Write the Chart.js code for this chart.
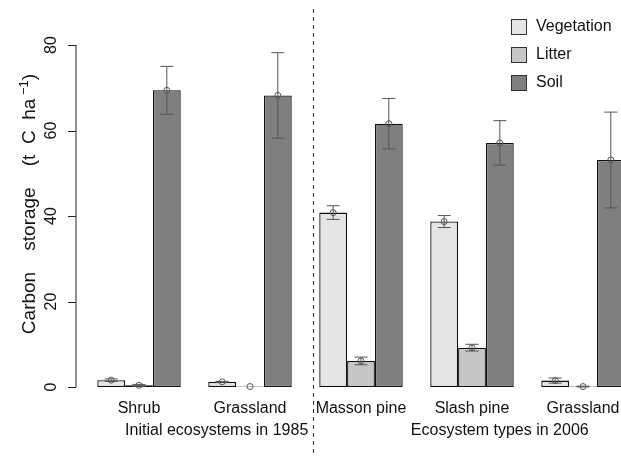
<!DOCTYPE html>
<html>
<head>
<meta charset="utf-8">
<script src="https://cdn.jsdelivr.net/npm/chart.js@4.4.1/dist/chart.umd.min.js"></script>
<style>
html,body{margin:0;padding:0;background:#fff;overflow:hidden;width:621px;height:456px;}
#wrap{width:660px;height:456px;}
</style>
</head>
<body>
<div id="wrap"><canvas id="c" width="660" height="456"></canvas></div>
<script>
const categories = ['Shrub', 'Grassland', 'Masson pine', 'Slash pine', 'Grassland'];
const seriesNames = ['Vegetation', 'Litter', 'Soil'];
const vegetation = [1.6, 1.2, 40.8, 38.7, 1.5];
const vegetationSD = [0.3, 0.1, 1.6, 1.4, 0.6];
const litter = [0.4, 0.1, 6.1, 9.2, 0.1];
const litterSD = [0.2, 0.0, 0.9, 0.8, 0.1];
const soil = [69.4, 68.2, 61.6, 57.1, 53.1];
const soilSD = [5.6, 10.0, 5.9, 5.2, 11.2];
const yTicks = [0, 20, 40, 60, 80];
const periodLabels = ['Initial ecosystems in 1985', 'Ecosystem types in 2006'];

const colors = ['#e5e5e5', '#c6c6c6', '#7f7f7f'];
const sds = [vegetationSD, litterSD, soilSD];
const FONT = '"Liberation Sans", Arial, Helvetica, sans-serif';

const decor = {
  id: 'decor',
  afterDatasetsDraw(chart) {
    const ctx = chart.ctx;
    const x = chart.scales.x, y = chart.scales.y;
    ctx.save();
    // error bars
    chart.data.datasets.forEach((ds, di) => {
      const meta = chart.getDatasetMeta(di);
      meta.data.forEach((el, j) => {
        const m = ds.data[j], s = sds[di][j];
        const cx = el.x;
        const yh = y.getPixelForValue(m + s), yl = y.getPixelForValue(m - s), ym = y.getPixelForValue(m);
        ctx.strokeStyle = '#555';
        ctx.lineWidth = 1;
        ctx.beginPath();
        ctx.moveTo(cx, yh); ctx.lineTo(cx, yl);
        if (s > 0) {
          ctx.moveTo(cx - 6.5, yh); ctx.lineTo(cx + 6.5, yh);
          ctx.moveTo(cx - 6.5, yl); ctx.lineTo(cx + 6.5, yl);
        }
        ctx.stroke();
        ctx.beginPath();
        ctx.arc(cx, ym, 3, 0, Math.PI * 2);
        ctx.stroke();
      });
    });
    // y axis
    const ax = chart.chartArea.left - 7.5;
    ctx.strokeStyle = '#222';
    ctx.lineWidth = 1;
    ctx.beginPath();
    ctx.moveTo(ax, y.getPixelForValue(yTicks[0]));
    ctx.lineTo(ax, y.getPixelForValue(yTicks[yTicks.length - 1]));
    yTicks.forEach(t => {
      const py = Math.round(y.getPixelForValue(t)) + 0.5;
      ctx.moveTo(ax - 8, py); ctx.lineTo(ax, py);
    });
    ctx.stroke();
    ctx.fillStyle = '#111';
    ctx.font = '16px ' + FONT;
    ctx.textAlign = 'center';
    ctx.textBaseline = 'middle';
    yTicks.forEach(t => {
      ctx.save();
      ctx.translate(52, y.getPixelForValue(t));
      ctx.rotate(-Math.PI / 2);
      ctx.fillText(String(t), 0, 0);
      ctx.restore();
    });
    // y title
    ctx.save();
    ctx.translate(28, 204);
    ctx.rotate(-Math.PI / 2);
    const big = '19px ' + FONT, small = '13px ' + FONT;
    const parts = [['Carbon', big, 0], ['    ', big, 0], ['storage', big, 0], ['    ', big, 0], ['(t  C  ha', big, 0], [' \u22121', small, -7], [')', big, 0]];
    let total = 0;
    parts.forEach(p => { ctx.font = p[1]; total += ctx.measureText(p[0]).width; });
    let px = -total / 2;
    ctx.textAlign = 'left';
    ctx.textBaseline = 'alphabetic';
    parts.forEach(p => {
      ctx.font = p[1];
      ctx.fillText(p[0], px, 7 + p[2]);
      px += ctx.measureText(p[0]).width;
    });
    ctx.restore();
    // category labels
    ctx.font = '16px ' + FONT;
    ctx.textAlign = 'center';
    ctx.textBaseline = 'middle';
    categories.forEach((c, i) => ctx.fillText(c, x.getPixelForValue(i), 409));
    ctx.fillText(periodLabels[0], x.getPixelForValue(0) + 0.7 * (x.getPixelForValue(1) - x.getPixelForValue(0)), 431);
    ctx.fillText(periodLabels[1], x.getPixelForValue(3) + 0.25 * (x.getPixelForValue(4) - x.getPixelForValue(3)), 431);
    // dashed separator
    const dx = Math.round(x.getPixelForValue(1) + 0.564 * (x.getPixelForValue(2) - x.getPixelForValue(1))) + 0.5;
    ctx.strokeStyle = '#333';
    ctx.setLineDash([4, 4]);
    ctx.beginPath();
    ctx.moveTo(dx, 9); ctx.lineTo(dx, 456);
    ctx.stroke();
    ctx.setLineDash([]);
    // legend
    seriesNames.forEach((n, i) => {
      const cy = 27 + i * 28;
      ctx.fillStyle = colors[i];
      ctx.fillRect(511.5, cy - 7.5, 15, 15);
      ctx.strokeStyle = '#333';
      ctx.strokeRect(511.5, cy - 7.5, 15, 15);
      ctx.fillStyle = '#111';
      ctx.textAlign = 'left';
      ctx.font = '16px ' + FONT;
      ctx.fillText(n, 536, cy);
    });
    ctx.restore();
  }
};

new Chart(document.getElementById('c'), {
  type: 'bar',
  data: {
    labels: categories,
    datasets: [
      { label: seriesNames[0], data: vegetation, backgroundColor: colors[0] },
      { label: seriesNames[1], data: litter, backgroundColor: colors[1] },
      { label: seriesNames[2], data: soil, backgroundColor: colors[2] }
    ].map(d => Object.assign(d, { borderColor: '#111', borderWidth: 1.3, borderSkipped: false, categoryPercentage: 0.752, barPercentage: 1.0 }))
  },
  options: {
    responsive: false,
    animation: false,
    devicePixelRatio: 1,
    layout: { padding: { left: 83.5, right: 21.5, top: 45, bottom: 69 } },
    plugins: { legend: { display: false }, tooltip: { enabled: false } },
    scales: {
      x: { display: false, offset: true },
      y: { display: false, min: 0, max: 80 }
    }
  },
  plugins: [decor]
});
</script>
</body>
</html>
